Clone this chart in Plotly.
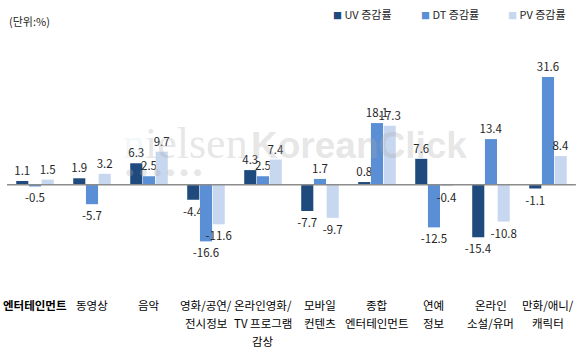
import plotly.graph_objects as go

categories = ["<b>엔터테인먼트</b>", "동영상", "음악", "영화/공연/\n전시정보", "온라인영화/\nTV 프로그램\n감상",
              "모바일\n컨텐츠", "종합\n엔터테인먼트", "연예\n정보", "온라인\n소설/유머", "만화/애니/\n캐릭터"]
uv = [1.1, 1.9, 6.3, -4.4, 4.3, -7.7, 0.8, 7.6, -15.4, -1.1]
dt = [-0.5, -5.7, 2.5, -16.6, 2.5, 1.7, 18.1, -12.5, 13.4, 31.6]
pv = [1.5, 3.2, 9.7, -11.6, 7.4, -9.7, 17.3, -0.4, -10.8, 8.4]
series_names = ["UV 증감률", "DT 증감률", "PV 증감률"]
colors = ["#1f4a7e", "#5a8fd5", "#c6d7ef"]

FONT = "Malgun Gothic, Noto Sans CJK KR, sans-serif"
x = list(range(len(categories)))

fig = go.Figure()
for name, vals, c in zip(series_names, [uv, dt, pv], colors):
    fig.add_trace(go.Bar(
        x=x, y=vals, name=name, marker=dict(color=c, line=dict(width=0)),
        text=[f"{v:.1f}" for v in vals], textposition="outside",
        textfont=dict(family=FONT, size=11.5, color="#262626"),
        constraintext="none", cliponaxis=False, showlegend=False,
    ))

# watermark
fig.add_annotation(xref="paper", yref="paper", x=0.206, y=0.61, xanchor="left", yanchor="middle",
                   text="<span style='color:rgba(150,200,225,0.4)'>n</span>ielsen", showarrow=False,
                   font=dict(family="Liberation Serif, DejaVu Serif, serif", size=44, color="rgba(170,170,170,0.3)"))
fig.add_annotation(xref="paper", yref="paper", x=0.425, y=0.6, xanchor="left", yanchor="middle",
                   text="<b>KoreanClick</b>", showarrow=False,
                   font=dict(family="Liberation Sans, Arial, sans-serif", size=37, color="rgba(170,170,170,0.3)"))
fig.add_annotation(xref="paper", yref="paper", x=0.212, y=0.47, xanchor="left", yanchor="middle",
                   text="●  ●  ●  ●  ●  ●", showarrow=False,
                   font=dict(family="DejaVu Sans, sans-serif", size=9, color="rgba(170,170,170,0.3)"))

# zero line
fig.add_shape(type="line", xref="x", yref="y", x0=-0.49, x1=9.49, y0=0, y1=0,
              line=dict(color="#8c8c8c", width=1.5), layer="above")

# category labels (per line)
plot_bottom_px = 270.5
plot_h = 208.6
for i, cat in enumerate(categories):
    for j, line in enumerate(cat.split("\n")):
        py = 296 + 18 * j
        fig.add_annotation(xref="x", yref="paper", x=i, y=(plot_bottom_px - py) / plot_h,
                           xanchor="center", yanchor="top", text=line, showarrow=False,
                           font=dict(family=FONT, size=11.5, color="#000000"))

# unit label
fig.add_annotation(xref="paper", yref="paper", x=7 / 586, y=(plot_bottom_px - 11) / plot_h,
                   xanchor="left", yanchor="top", text="(단위:%)", showarrow=False,
                   font=dict(family=FONT, size=11, color="#262626"))

# legend (custom)
for name, c, px in zip(series_names, colors, [331, 419, 506]):
    fig.add_annotation(xref="paper", yref="paper", x=px / 586, y=(plot_bottom_px - 4) / plot_h,
                       xanchor="left", yanchor="top", showarrow=False,
                       text=f"<span style='color:{c};font-size:9px'>■</span> {name}",
                       font=dict(family=FONT, size=11, color="#262626"))

fig.update_layout(
    width=586, height=354,
    margin=dict(l=0, r=0, t=62, b=83.5),
    paper_bgcolor="white", plot_bgcolor="white",
    barmode="group", bargap=0.33, bargroupgap=0.05,
    xaxis=dict(range=[-0.614, 9.667], showticklabels=False, showgrid=False, zeroline=False, showline=False, ticks=""),
    yaxis=dict(range=[-25, 36], showticklabels=False, showgrid=False, zeroline=False, showline=False, ticks=""),
)

fig.write_html("out.html")
